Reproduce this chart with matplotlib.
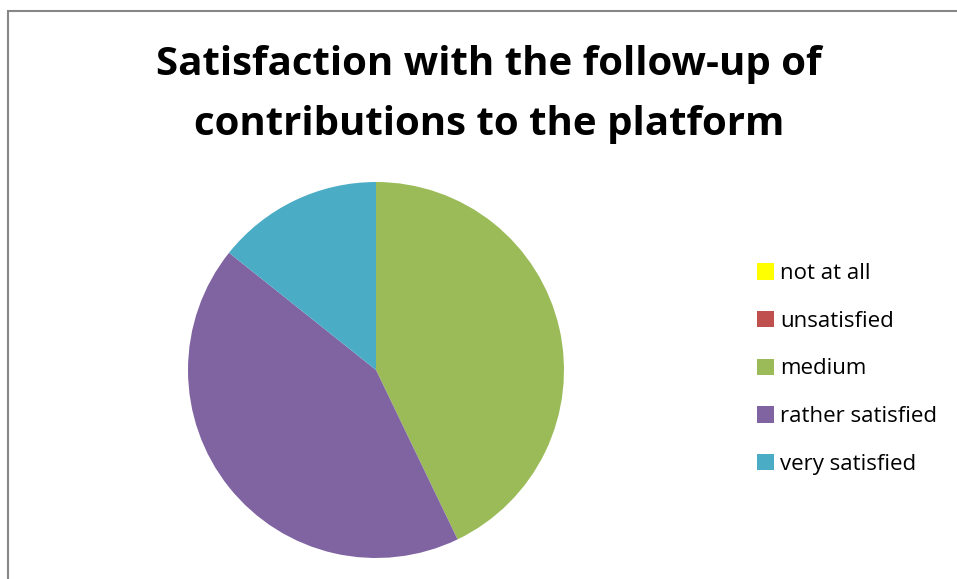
import matplotlib.pyplot as plt
from matplotlib.patches import Rectangle, Patch

labels = ['not at all', 'unsatisfied', 'medium', 'rather satisfied', 'very satisfied']
values = [0, 0, 3, 3, 1]
colors = ['#FFFF00', '#C0504D', '#9BBB59', '#8064A2', '#4BACC6']
title = 'Satisfaction with the follow-up of\ncontributions to the platform'

W, H = 957, 579
fig = plt.figure(figsize=(W / 100, H / 100), dpi=100)

# chart area frame (left and top edges visible)
fig.patches.append(Rectangle((8 / W, -0.1), 1.2, (H - 11) / H + 0.1,
                             transform=fig.transFigure, fill=False,
                             edgecolor='#878787', linewidth=1.5))

ax = fig.add_axes([188 / W, 21 / H, 376 / W, 376 / H])
ax.pie(values, colors=colors, startangle=90, counterclock=False,
       wedgeprops={'linewidth': 0})
ax.set_xlim(-1, 1)
ax.set_ylim(-1, 1)
ax.set_aspect('equal')

fig.text(489 / W, 1 - 94 / H, title, ha='center', va='center',
         fontsize=29, fontweight='bold', family='Open Sans', linespacing=1.7)

handles = [Patch(facecolor=c, edgecolor='none') for c in colors]
fig.legend(handles, labels, loc='center left',
           bbox_to_anchor=(737 / W, 1 - 369 / H), frameon=False,
           handlelength=0.75, handleheight=0.75, handletextpad=0.3,
           labelspacing=1.2, prop={'family': 'Open Sans', 'size': 16})

fig.savefig('out.png', dpi=100)
